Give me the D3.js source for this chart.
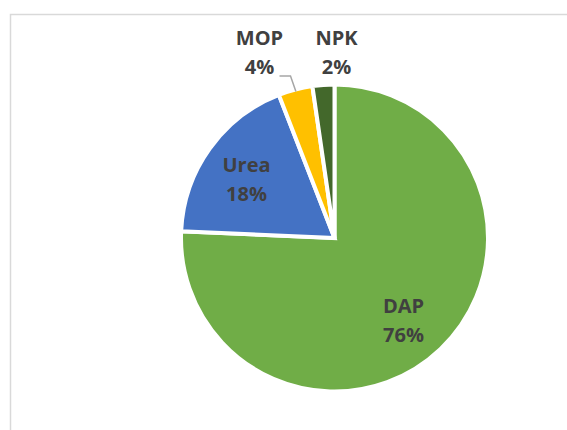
<!DOCTYPE html>
<html>
<head>
<meta charset="utf-8">
<script src="https://cdn.jsdelivr.net/npm/d3@7"></script>
<style>
  body { margin: 0; background: #fff; }
</style>
</head>
<body>
<script>
// data
var categories = ["DAP", "Urea", "MOP", "NPK"];
var shares = [75.7, 18.4, 3.6, 2.3];
var slice_colors = ["#70ad47", "#4472c4", "#ffc000", "#43682b"];

var w = 567, h = 430;
var cx = 334.5, cy = 238, radius = 153.5;
var text_color = "#404040";
var font_size = 20;

var svg = d3.select("body").append("svg")
    .attr("width", w)
    .attr("height", h);

// chart frame (runs off the page on right and bottom)
svg.append("rect")
    .attr("x", 10.5).attr("y", 14.5)
    .attr("width", 700).attr("height", 600)
    .style("fill", "none")
    .style("stroke", "#d9d9d9")
    .style("stroke-width", 1.5);

var pie = d3.pie().sort(null).value(function(d){ return d.value; });
var rows = categories.map(function(c, i){ return {name: c, value: shares[i], color: slice_colors[i]}; });
var arcs = pie(rows);

var arc = d3.arc().innerRadius(0).outerRadius(radius);

var g = svg.append("g").attr("transform", "translate(" + cx + "," + cy + ")");

g.selectAll("path.slice")
    .data(arcs)
  .enter().append("path")
    .attr("class", "slice")
    .attr("d", arc)
    .style("fill", function(d){ return d.data.color; })
    .style("stroke", "white")
    .style("stroke-width", 4)
    .style("stroke-linejoin", "miter");

// label positions (relative to pie centre)
var label_pos = {
  "DAP":  [69, 75],
  "Urea": [-88, -66],
  "MOP":  [-75, -193],
  "NPK":  [2, -193]
};

var fmt = function(v){ return Math.round(v) + "%"; };

arcs.forEach(function(d){
  var p = label_pos[d.data.name];
  var t = g.append("text")
      .attr("x", p[0])
      .attr("y", p[1])
      .attr("text-anchor", "middle")
      .attr("font-family", "'Open Sans', sans-serif")
      .attr("font-weight", "bold")
      .attr("font-size", font_size)
      .attr("fill", text_color);
  t.append("tspan").attr("x", p[0]).attr("dy", 0).text(d.data.name);
  t.append("tspan").attr("x", p[0]).attr("dy", 29).text(fmt(d.data.value));
});

// leader line for MOP
var mop = arcs[2];
var mop_edge = d3.arc().innerRadius(radius - 2).outerRadius(radius - 2).centroid(mop);
var line = d3.line();
g.append("path")
    .attr("d", line([[-55, -162], [-44, -162], [mop_edge[0], mop_edge[1]]]))
    .style("fill", "none")
    .style("stroke", "#a6a6a6")
    .style("stroke-width", 1.5);
</script>
</body>
</html>
